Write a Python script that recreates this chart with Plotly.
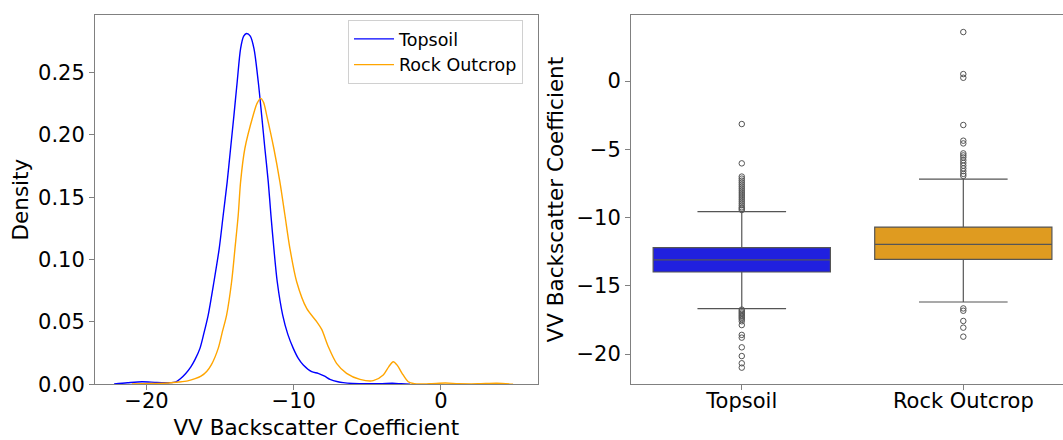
import plotly.graph_objects as go

# ---- KDE curves (VV backscatter, density) ----
topsoil_x = [-22.2, -21.3, -20.3, -19.3, -18.5, -18.0, -17.7, -17.35, -17.0, -16.7,
             -16.37, -16.1, -15.81, -15.42, -15.06, -14.79, -14.52, -14.29, -14.06,
             -13.84, -13.61, -13.4, -13.2, -12.95, -12.7, -12.41, -12.18, -11.96,
             -11.73, -11.55, -11.35, -11.12, -10.75, -10.4, -10.03, -9.7, -9.35,
             -8.78, -8.34, -7.9, -7.54, -7.0, -6.64, -6.0, -5.0, -4.0, -3.3, -2.7, -2.1]
topsoil_y = [0.0002, 0.0012, 0.0021, 0.0014, 0.0013, 0.0020, 0.0045, 0.0085, 0.0138, 0.020,
             0.0288, 0.041, 0.0555, 0.0822, 0.109, 0.1357, 0.1623, 0.189, 0.2158,
             0.2425, 0.269, 0.279, 0.2812, 0.279, 0.269, 0.2425, 0.2158, 0.189,
             0.1623, 0.1357, 0.109, 0.0822, 0.0555, 0.040, 0.0288, 0.021, 0.0155,
             0.0101, 0.0088, 0.0065, 0.0040, 0.0020, 0.0013, 0.0007, 0.0004, 0.0005,
             0.0008, 0.0004, 0.0]

rock_x = [-21.0, -19.5, -18.5, -17.8, -17.2, -16.7, -16.3, -15.9, -15.6, -15.13,
          -14.85, -14.56, -14.22, -13.99, -13.77, -13.61, -13.32, -12.75, -12.5,
          -12.25, -12.05, -11.84, -11.35, -10.94, -10.6, -10.26, -9.8, -9.12, -8.44,
          -8.1, -7.65, -7.09, -6.41, -5.5, -4.6, -3.92, -3.55, -3.24, -2.95, -2.65,
          -2.22, -1.8, -0.8, 0.3, 1.2, 2.5, 3.8, 4.9]
rock_y = [0.0002, 0.0006, 0.0010, 0.0018, 0.0028, 0.0045, 0.0065, 0.0105, 0.0155, 0.0288,
          0.042, 0.0555, 0.0822, 0.109, 0.1357, 0.1623, 0.189, 0.2158, 0.225,
          0.2292, 0.226, 0.2158, 0.189, 0.1623, 0.1357, 0.109, 0.0822, 0.0608, 0.0502,
          0.044, 0.0301, 0.0168, 0.0088, 0.0040, 0.0029, 0.0075, 0.014, 0.0181, 0.015,
          0.009, 0.002, 0.0004, 0.0004, 0.0010, 0.0005, 0.0004, 0.0008, 0.0001]

# ---- Box plot statistics ----
categories = ["Topsoil", "Rock Outcrop"]
q1 = [-13.99, -13.06]
median = [-13.11, -11.97]
q3 = [-12.21, -10.70]
lower_fence = [-16.68, -16.19]
upper_fence = [-9.57, -7.18]

topsoil_outliers = [-3.15, -6.03, -7.0, -7.15, -7.3, -7.45, -7.6, -7.75, -7.9, -8.05,
                    -8.2, -8.35, -8.5, -8.65, -8.8, -8.95, -9.1, -9.25, -9.35, -9.45,
                    -16.75, -16.85, -16.95, -17.05, -17.15, -17.25, -17.35, -17.45,
                    -17.6, -17.88, -18.6, -18.8, -19.51, -20.15, -20.68, -21.0]
rock_outliers = [3.59, 0.51, 0.24, -3.22, -4.37, -4.57, -5.3, -5.45, -5.6, -5.8, -6.0,
                 -6.2, -6.4, -6.6, -6.8, -6.95, -16.66, -16.83, -17.58, -18.07, -18.73]

left_xticks = [-20, -10, 0]
left_yticks = [0.0, 0.05, 0.10, 0.15, 0.20, 0.25]
right_yticks = [0, -5, -10, -15, -20]

line_colors = ["#0000ff", "#ffa500"]
box_fills = ["#2020df", "#df9b20"]
gray = "#555555"
frame = "#808080"
font_family = "DejaVu Sans, Liberation Sans, sans-serif"


def minus(v):
    return str(v).replace("-", "\u2212")


fig = go.Figure()

fig.add_trace(go.Scatter(x=topsoil_x, y=topsoil_y, mode="lines", name="Topsoil",
                         line=dict(color=line_colors[0], width=1.4, shape="spline", smoothing=0.8),
                         xaxis="x", yaxis="y"))
fig.add_trace(go.Scatter(x=rock_x, y=rock_y, mode="lines", name="Rock Outcrop",
                         line=dict(color=line_colors[1], width=1.4, shape="spline", smoothing=0.8),
                         xaxis="x", yaxis="y"))

for i, cat in enumerate(categories):
    fig.add_trace(go.Box(
        x=[cat], q1=[q1[i]], median=[median[i]], q3=[q3[i]],
        lowerfence=[lower_fence[i]], upperfence=[upper_fence[i]],
        fillcolor=box_fills[i], line=dict(color=gray, width=1.2),
        whiskerwidth=0.5, width=0.8, boxpoints=False, showlegend=False,
        xaxis="x2", yaxis="y2"))

for cat, pts in zip(categories, [topsoil_outliers, rock_outliers]):
    fig.add_trace(go.Scatter(
        x=[cat] * len(pts), y=pts, mode="markers", showlegend=False,
        marker=dict(symbol="circle-open", size=5.5, color=gray, line=dict(width=1)),
        xaxis="x2", yaxis="y2"))

W, H = 1063, 440
y_dom = [1 - 384.3 / H, 1 - 15 / H]
tick_font = dict(family=font_family, size=21, color="black")
title_font = dict(family=font_family, size=21.5, color="black")

fig.update_layout(
    width=W, height=H,
    margin=dict(l=0, r=0, t=0, b=0),
    paper_bgcolor="white", plot_bgcolor="white",
    font=dict(family=font_family, color="black"),
    xaxis=dict(domain=[95 / W, 537.5 / W], range=[-23.5, 6.56],
               tickvals=left_xticks, ticktext=[minus(v) for v in left_xticks],
               ticks="outside", ticklen=5, tickcolor=frame, tickfont=tick_font,
               ticklabelstandoff=-8,
               showline=True, linecolor=frame, linewidth=1, mirror=True,
               showgrid=False, zeroline=False,
               title=dict(text="VV Backscatter Coefficient", font=title_font, standoff=12),
               automargin=False),
    yaxis=dict(domain=y_dom, range=[0, 0.296],
               tickvals=left_yticks, ticktext=["%.2f" % v for v in left_yticks],
               ticks="outside", ticklen=5, tickcolor=frame, tickfont=tick_font,
               showline=True, linecolor=frame, linewidth=1, mirror=True,
               showgrid=False, zeroline=False,
               title=dict(text="Density", font=title_font, standoff=3),
               automargin=False),
    xaxis2=dict(domain=[631 / W, 1.0], range=[-0.5, 1.45], type="category",
                categoryorder="array", categoryarray=categories,
                ticks="outside", ticklen=5, tickcolor=frame, tickfont=tick_font,
                ticklabelstandoff=-8,
                showline=True, linecolor=frame, linewidth=1, mirror=True,
                showgrid=False, zeroline=False, automargin=False, anchor="y2"),
    yaxis2=dict(domain=y_dom, range=[-22.22, 4.84], anchor="x2",
                tickvals=right_yticks, ticktext=[minus(v) for v in right_yticks],
                ticks="outside", ticklen=5, tickcolor=frame, tickfont=tick_font,
                showline=True, linecolor=frame, linewidth=1, mirror=False,
                showgrid=False, zeroline=False,
                title=dict(text="VV Backscatter Coefficient", font=title_font, standoff=6),
                automargin=False),
    legend=dict(x=348 / W, y=1 - 20 / H, xanchor="left", yanchor="top",
                bgcolor="rgba(255,255,255,0.8)", bordercolor="#d0d0d0", borderwidth=1,
                font=dict(family=font_family, size=17.5, color="black"),
                tracegroupgap=0, itemwidth=40),
    showlegend=True,
)

fig.write_html("out.html")
